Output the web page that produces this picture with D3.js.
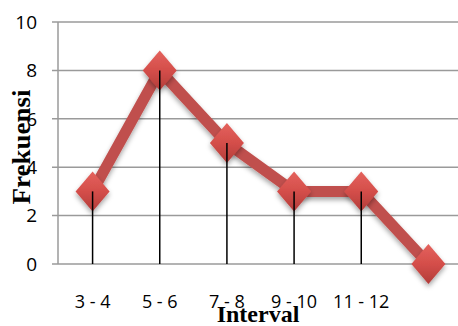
<!DOCTYPE html>
<html><head><meta charset="utf-8">
<script src="https://cdn.jsdelivr.net/npm/d3@7/dist/d3.min.js"></script>
<style>html,body{margin:0;padding:0;background:#fff;overflow:hidden}</style>
</head><body>
<svg id="c" width="458" height="326"></svg>
<script>
const categories = ["3 - 4", "5 - 6", "7 - 8", "9 - 10", "11 - 12", ""];
const frekuensi = [3, 8, 5, 3, 3, 0];
const yTicks = [0, 2, 4, 6, 8, 10];
const xTitle = "Interval";
const yTitle = "Frekuensi";

const svg = d3.select("#c");
const x = d3.scaleBand().domain(categories.map((c,i)=>i)).range([59, 462]);
const y = d3.scaleLinear().domain([0, 10]).range([264, 22]);
const cx = i => x(i) + x.bandwidth()/2;

const defs = svg.append("defs");
const g = defs.append("linearGradient").attr("id","mk").attr("x1","0").attr("y1","0").attr("x2","0").attr("y2","1");
g.append("stop").attr("offset","0").attr("stop-color","#e4625d");
g.append("stop").attr("offset","0.5").attr("stop-color","#d44e4a");
g.append("stop").attr("offset","1").attr("stop-color","#b23c39");
const f = defs.append("filter").attr("id","sh").attr("x","-50%").attr("y","-50%").attr("width","200%").attr("height","200%");
f.append("feDropShadow").attr("dx",0).attr("dy",3).attr("stdDeviation",2.5).attr("flood-color","#000").attr("flood-opacity",0.35);

// gridlines
svg.append("g").selectAll("line").data(yTicks).join("line")
  .attr("x1", 52).attr("x2", 458).attr("y1", d=>y(d)).attr("y2", d=>y(d))
  .attr("stroke", "#9a9a9a").attr("stroke-width", 1.5);
// y axis line
svg.append("line").attr("x1",58).attr("x2",58).attr("y1",y(10)).attr("y2",y(0))
  .attr("stroke","#9a9a9a").attr("stroke-width",1.5);

// y tick labels
svg.append("g").selectAll("text").data(yTicks).join("text")
  .attr("x", 37).attr("y", d=>y(d)).attr("dy","0.36em").attr("text-anchor","end")
  .attr("font-family","'Open Sans', sans-serif").attr("font-size",19).attr("fill","#000")
  .text(d=>d);

// x labels
svg.append("g").selectAll("text").data(categories).join("text")
  .attr("x", (d,i)=>cx(i)).attr("y", 308).attr("text-anchor","middle")
  .attr("font-family","'Open Sans', sans-serif").attr("font-size",18).attr("fill","#000")
  .text(d=>d);

// line
const line = d3.line().x((d,i)=>cx(i)).y(d=>y(d));
svg.append("path").datum(frekuensi).attr("d", line)
  .attr("fill","none").attr("stroke","#c0504d").attr("stroke-width",11)
  .attr("stroke-linejoin","miter").attr("filter","url(#sh)");

// markers
const hw = 17, hh = 20;
svg.append("g").selectAll("path").data(frekuensi).join("path")
  .attr("d", (d,i)=>{const px=cx(i), py=y(d); return `M${px},${py-hh}L${px+hw},${py}L${px},${py+hh}L${px-hw},${py}Z`;})
  .attr("fill","url(#mk)").attr("filter","url(#sh)");

// drop lines
svg.append("g").selectAll("line").data(frekuensi.map((v,i)=>({v,i})).filter(d=>d.v>0)).join("line")
  .attr("x1", d=>cx(d.i)).attr("x2", d=>cx(d.i)).attr("y1", d=>y(d.v)).attr("y2", y(0))
  .attr("stroke","#000").attr("stroke-width",1.5);

// titles
svg.append("text").attr("x", 258).attr("y", 322).attr("text-anchor","middle")
  .attr("font-family","'Liberation Serif', 'Times New Roman', serif").attr("font-weight","bold")
  .attr("font-size",24).attr("fill","#000").text(xTitle);
svg.append("text").attr("transform","translate(30,147) rotate(-90)").attr("text-anchor","middle")
  .attr("font-family","'Liberation Serif', 'Times New Roman', serif").attr("font-weight","bold")
  .attr("font-size",25).attr("fill","#000")
  .attr("textLength",115).attr("lengthAdjust","spacingAndGlyphs").text(yTitle);
</script>
</body></html>
